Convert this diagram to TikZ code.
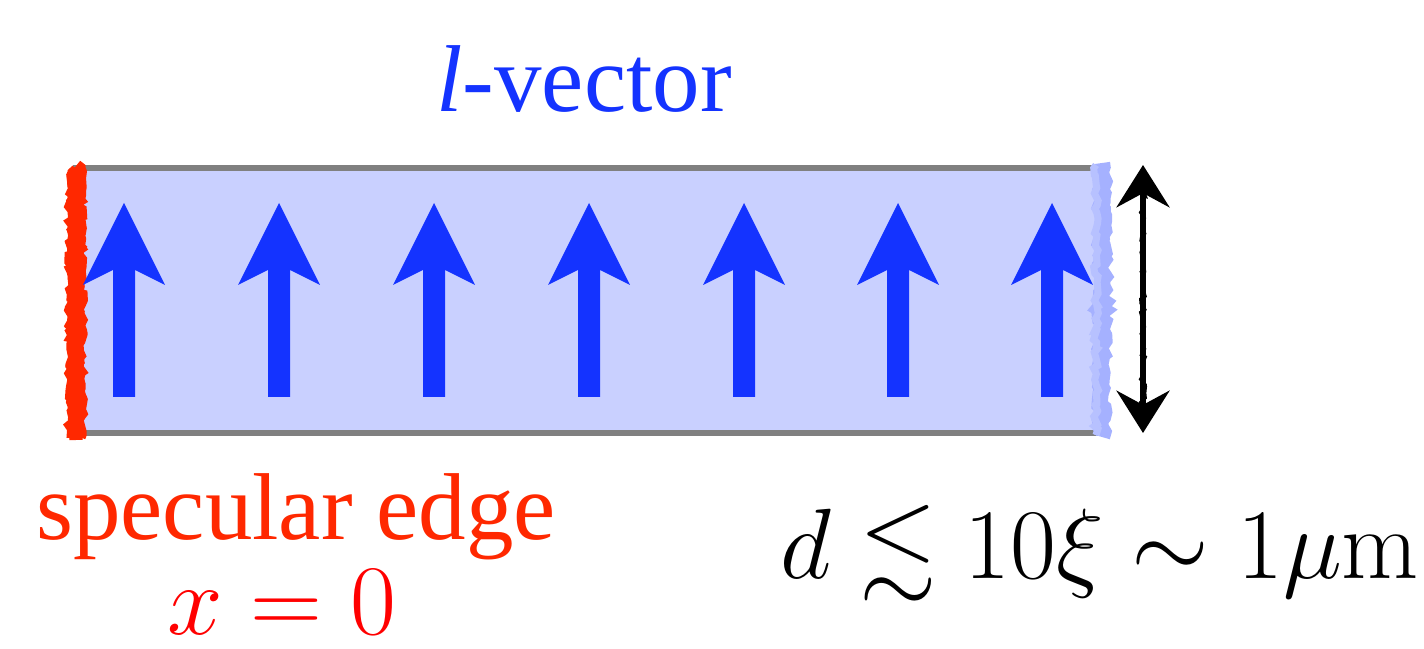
\RequirePackage{fix-cm}
\documentclass[tikz,border=0pt]{standalone}
\usepackage{amssymb}
\usepackage[no-math]{fontspec}
\newfontfamily\timesf{Liberation Serif}
\usetikzlibrary{arrows.meta,decorations.pathmorphing}
\definecolor{boxfill}{RGB}{201,208,255}
\definecolor{arrowblue}{RGB}{20,51,255}
\definecolor{edgered}{RGB}{255,40,0}
\definecolor{mathred}{RGB}{255,0,0}
\definecolor{bandblue}{RGB}{165,177,255}
\definecolor{bordergray}{RGB}{128,128,128}
\tikzset{
  rough/.style={decorate,decoration={random steps,segment length=1.2pt,amplitude=0.7pt}},
  lvecarrow/.style={fill=arrowblue},
  bigtext/.style={anchor=base,font=\timesf\fontsize{27}{32}\selectfont},
  mathtext/.style={anchor=base,font=\fontsize{28.4}{33}\selectfont},
  dimarrow/.style={line width=1.9pt,black,{Stealth[length=12pt,width=15pt,inset=4pt]}-{Stealth[length=12pt,width=15pt,inset=4pt]}}
}
\begin{document}
\begin{tikzpicture}[x=0.01cm,y=-0.01cm]
\pgfmathsetseed{7}
\useasboundingbox (0,0) rectangle (1424,649);
% film
\fill[boxfill] (73,168) rectangle (1103,433);
\draw[bordergray,line width=1.5pt] (73,168) -- (1103,168) (73,433) -- (1103,433);
% right band
\draw[bandblue,line width=4.6pt,rough] (1102,163) -- (1102,437);
\draw[bandblue!80!white,line width=2pt,rough] (1096,165) -- (1096,435);
% left specular edge
\draw[edgered,line width=3.8pt,rough] (76,166) -- (76,440);
\draw[edgered,line width=2pt,rough] (70,168) -- (70,438);
\draw[edgered,line width=2pt,rough] (82,168) -- (82,438);
% l-vector arrows
\foreach \cx in {124,279,434,589,744,898,1052}{
  \fill[lvecarrow] (\cx,203) -- (\cx+41,285) -- (\cx+11,270) -- (\cx+11,397)
    -- (\cx-11,397) -- (\cx-11,270) -- (\cx-41,285) -- cycle;
}
% thickness arrow
\coordinate (dtop) at (1143,165);
\coordinate (dbot) at (1143,433);
\draw[dimarrow] (dtop) -- (dbot);
\draw[line width=0.9pt,rough] (1143,190) -- (1143,410);
% labels
\node[bigtext,text=arrowblue] (lvec) at (584,112) {{\itshape l}-vector};
\node[bigtext,text=edgered] (spec) at (296,540) {specular edge};
\node[mathtext,text=mathred] (xzero) at (282,634) {$x=0$};
\node[mathtext] (dlab) at (1100,578) {$d\lesssim 10\xi\sim 1\mu\mathrm{m}$};
\end{tikzpicture}
\end{document}
